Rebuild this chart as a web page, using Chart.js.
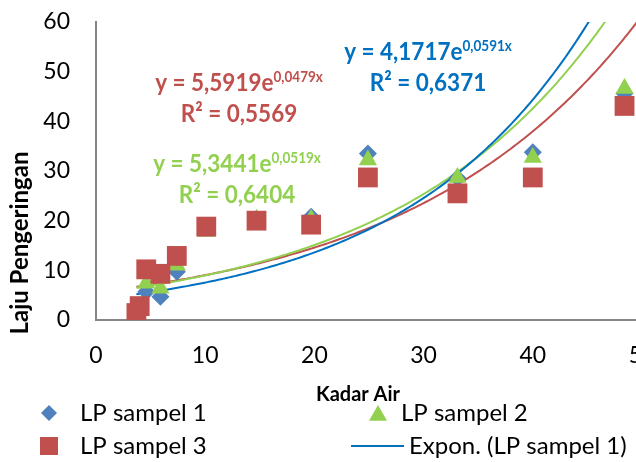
<!DOCTYPE html>
<html>
<head>
<meta charset="utf-8">
<script src="https://cdn.jsdelivr.net/npm/chart.js"></script>
<style>
  html, body { margin: 0; padding: 0; overflow: hidden; background: #fff; }
  #wrap { width: 660px; height: 462px; }
</style>
</head>
<body>
<div id="wrap"><canvas id="myScatter" width="660" height="462"></canvas></div>
<script>
// data
var kadarAir = [3.7, 4.0, 4.6, 5.9, 7.4, 10.1, 14.7, 19.7, 24.9, 33.1, 40.0, 48.4];
var lpSampel1 = [1.4, 2.8, 5.7, 4.7, 9.7, 18.5, 20.0, 20.8, 33.5, 28.6, 33.8, 45.6];
var lpSampel2 = [1.4, 2.8, 7.4, 6.4, 11.0, 17.8, 20.3, 20.3, 32.2, 28.7, 32.7, 46.6];
var lpSampel3 = [1.4, 2.8, 10.2, 9.3, 12.9, 18.8, 20.0, 19.2, 28.7, 25.5, 28.7, 43.1];
var xTicks = [0, 10, 20, 30, 40, 50];
var yTicks = [0, 10, 20, 30, 40, 50, 60];

// exponential trendlines y = a*e^(b*x), coefficients as printed on the chart
var trendA = [4.1717, 5.3441, 5.5919];
var trendB = [0.0591, 0.0519, 0.0479];
var trendR2 = ['0,6371', '0,6404', '0,5569'];

var markerColors = ['#4F81BD', '#92D050', '#C0504D'];
var lineColors = ['#0070C0', '#92D050', '#C0504D'];
var seriesNames = ['LP sampel 1', 'LP sampel 2', 'LP sampel 3'];
var FONT = 'Lato';

function toPoints(ys) {
  return kadarAir.map(function (x, i) { return { x: x, y: ys[i] }; });
}

function trendPoints(k) {
  var pts = [];
  for (var x = kadarAir[0]; x <= 50.01; x += 0.25) {
    pts.push({ x: x, y: trendA[k] * Math.exp(trendB[k] * x) });
  }
  return pts;
}

function comma(v) { return String(v).replace('.', ','); }

// equation + R² label, squeezed a little so the wide font fits the original width
function drawEq(ctx, cx, cy, k, color) {
  var main = 'y = ' + comma(trendA[k]) + 'e';
  var sup = comma(trendB[k]) + 'x';
  ctx.save();
  ctx.translate(cx, cy);
  ctx.scale(0.9, 1);
  ctx.font = 'bold 25px ' + FONT;
  var w1 = ctx.measureText(main).width;
  ctx.font = 'bold 15px ' + FONT;
  var w2 = ctx.measureText(sup).width;
  var x0 = -(w1 + w2) / 2;
  ctx.fillStyle = color;
  ctx.textAlign = 'left';
  ctx.textBaseline = 'middle';
  ctx.font = 'bold 25px ' + FONT;
  ctx.fillText(main, x0, 0);
  ctx.font = 'bold 15px ' + FONT;
  ctx.fillText(sup, x0 + w1, -6);
  ctx.font = 'bold 25px ' + FONT;
  ctx.textAlign = 'center';
  ctx.fillText('R² = ' + trendR2[k], 0, 31);
  ctx.restore();
}

function diamond(ctx, x, y, r, c) {
  ctx.fillStyle = c; ctx.beginPath();
  ctx.moveTo(x, y - r); ctx.lineTo(x + r, y); ctx.lineTo(x, y + r); ctx.lineTo(x - r, y);
  ctx.closePath(); ctx.fill();
}
function triangle(ctx, x, y, r, c) {
  ctx.fillStyle = c; ctx.beginPath();
  ctx.moveTo(x, y - r); ctx.lineTo(x + r, y + r * 0.75); ctx.lineTo(x - r, y + r * 0.75);
  ctx.closePath(); ctx.fill();
}

var extras = {
  id: 'extras',
  afterDraw: function (chart) {
    var ctx = chart.ctx;
    ctx.save();
    // trendline labels
    drawEq(ctx, 428, 52, 0, '#0070C0');
    drawEq(ctx, 239, 83, 2, '#C0504D');
    drawEq(ctx, 237, 164, 1, '#92D050');

    // axis titles
    ctx.fillStyle = '#000';
    ctx.font = 'bold 20px ' + FONT;
    ctx.textAlign = 'center';
    ctx.textBaseline = 'middle';
    ctx.fillText('Kadar Air', 358, 395);
    ctx.save();
    ctx.translate(20, 243);
    ctx.rotate(-Math.PI / 2);
    ctx.font = 'bold 24px ' + FONT;
    ctx.fillText('Laju Pengeringan', 0, 0);
    ctx.restore();

    // legend
    ctx.font = '24px ' + FONT;
    ctx.textAlign = 'left';
    diamond(ctx, 49, 413, 8, markerColors[0]);
    ctx.fillStyle = '#000';
    ctx.fillText(seriesNames[0], 80, 413);
    triangle(ctx, 378, 414, 9, markerColors[1]);
    ctx.fillStyle = '#000';
    ctx.fillText(seriesNames[1], 401, 413);
    ctx.fillStyle = markerColors[2];
    ctx.fillRect(40, 437, 18, 18);
    ctx.fillStyle = '#000';
    ctx.fillText(seriesNames[2], 80, 446);
    ctx.strokeStyle = lineColors[0];
    ctx.lineWidth = 2;
    ctx.beginPath(); ctx.moveTo(351, 446); ctx.lineTo(404, 446); ctx.stroke();
    ctx.fillStyle = '#000';
    ctx.fillText('Expon. (' + seriesNames[0] + ')', 409, 446);
    ctx.restore();
  }
};

var ctx = document.getElementById('myScatter').getContext('2d');
var myScatter = new Chart(ctx, {
  type: 'scatter',
  data: {
    datasets: [
      { label: seriesNames[2], data: toPoints(lpSampel3), order: 0,
        pointStyle: 'rect', pointRadius: 14, backgroundColor: markerColors[2], borderWidth: 0 },
      { label: seriesNames[1], data: toPoints(lpSampel2), order: 1,
        pointStyle: 'triangle', pointRadius: 10.5, backgroundColor: markerColors[1], borderWidth: 0 },
      { label: seriesNames[0], data: toPoints(lpSampel1), order: 2,
        pointStyle: 'rectRot', pointRadius: 9, backgroundColor: markerColors[0], borderWidth: 0 },
      { label: 'Expon. (LP sampel 1)', data: trendPoints(0), order: 3, type: 'line',
        showLine: true, pointRadius: 0, borderColor: lineColors[0], borderWidth: 2, fill: false },
      { label: 'Expon. (LP sampel 2)', data: trendPoints(1), order: 4, type: 'line',
        showLine: true, pointRadius: 0, borderColor: lineColors[1], borderWidth: 2, fill: false },
      { label: 'Expon. (LP sampel 3)', data: trendPoints(2), order: 5, type: 'line',
        showLine: true, pointRadius: 0, borderColor: lineColors[2], borderWidth: 2, fill: false }
    ]
  },
  options: {
    responsive: false,
    animation: false,
    layout: { padding: { top: 22, right: 18, left: 0, bottom: 0 } },
    plugins: {
      legend: { display: false },
      tooltip: { enabled: false }
    },
    scales: {
      x: {
        type: 'linear', min: 0, max: 50,
        afterBuildTicks: function (s) { s.ticks = xTicks.map(function (v) { return { value: v }; }); },
        afterFit: function (s) { s.height = 142; s.paddingLeft = 0; s.paddingRight = 0; },
        grid: { display: false, drawTicks: false },
        border: { display: true, color: '#868686', width: 2 },
        ticks: { padding: 22, color: '#000', maxRotation: 0, font: { family: FONT, size: 23 } }
      },
      y: {
        type: 'linear', min: 0, max: 60,
        afterBuildTicks: function (s) { s.ticks = yTicks.map(function (v) { return { value: v }; }); },
        afterFit: function (s) { s.width = 96; s.paddingTop = 0; s.paddingBottom = 0; },
        grid: { display: false, drawTicks: false },
        border: { display: true, color: '#868686', width: 2 },
        ticks: { padding: 26, color: '#000', font: { family: FONT, size: 23 } }
      }
    }
  },
  plugins: [extras]
});
</script>
</body>
</html>
